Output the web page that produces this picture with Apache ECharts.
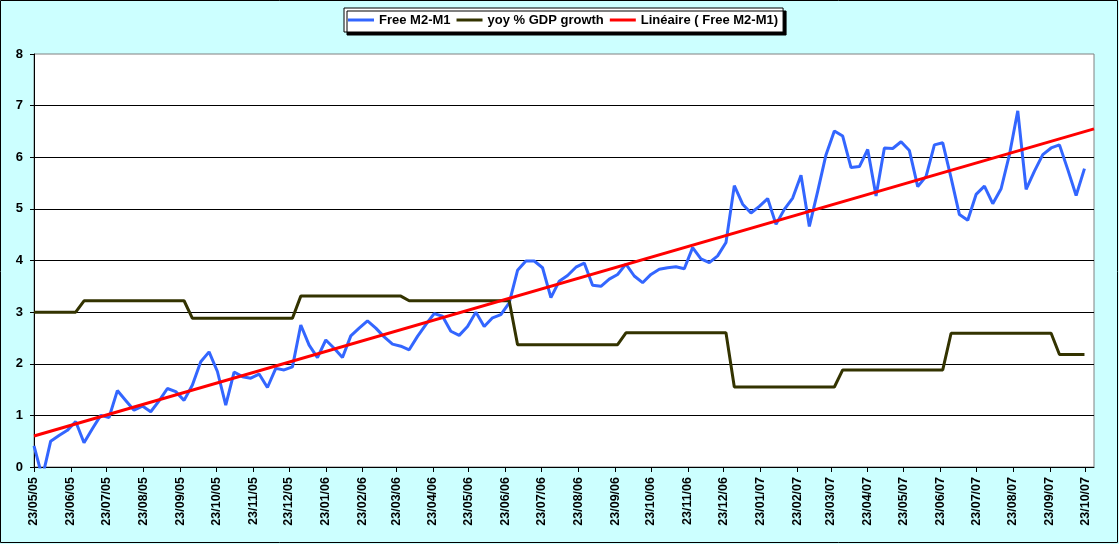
<!DOCTYPE html>
<html><head><meta charset="utf-8">
<script src="https://cdn.jsdelivr.net/npm/echarts@6/dist/echarts.min.js"></script>
<style>html,body{margin:0;padding:0;background:#CCFFFF}#c{width:1119px;height:544px}</style>
</head><body><div id="c"></div>
<script>
// Weekly observations starting Monday 23/05/05 (127 weeks)
const startDate = [2005, 4, 23];
const axisDayCount = 891; // daily axis 23/05/05 .. 30/10/07
const seriesNames = ['Free M2-M1', 'yoy % GDP growth', 'Linéaire ( Free M2-M1)'];
const freeM2M1 = [
  0.41, -0.2, 0.5, 0.61, 0.71, 0.88, 0.47, 0.74, 1.0, 0.96,
  1.48, 1.29, 1.10, 1.18, 1.07, 1.28, 1.52, 1.46, 1.29, 1.59,
  2.04, 2.23, 1.85, 1.20, 1.84, 1.75, 1.72, 1.80, 1.54, 1.91,
  1.88, 1.94, 2.75, 2.36, 2.12, 2.46, 2.30, 2.12, 2.54, 2.69,
  2.83, 2.69, 2.52, 2.38, 2.34, 2.27, 2.53, 2.76, 2.97, 2.92,
  2.63, 2.55, 2.72, 3.00, 2.72, 2.89, 2.95, 3.18, 3.81, 3.99,
  3.99, 3.86, 3.28, 3.60, 3.71, 3.87, 3.95, 3.52, 3.50, 3.64,
  3.73, 3.93, 3.70, 3.57, 3.73, 3.83, 3.86, 3.88, 3.84, 4.25,
  4.03, 3.96, 4.09, 4.35, 5.45, 5.09, 4.92, 5.05, 5.20, 4.70,
  4.99, 5.21, 5.65, 4.66, 5.34, 6.05, 6.51, 6.41, 5.80, 5.82,
  6.15, 5.25, 6.18, 6.17, 6.30, 6.13, 5.43, 5.63, 6.24, 6.28,
  5.60, 4.89, 4.78, 5.28, 5.44, 5.10, 5.39, 6.05, 6.90, 5.38,
  5.73, 6.05, 6.18, 6.24, 5.76, 5.26, 5.78
];
const gdpGrowth = [
  3.0, 3.0, 3.0, 3.0, 3.0, 3.0,
  3.22, 3.22, 3.22, 3.22, 3.22, 3.22, 3.22, 3.22, 3.22, 3.22, 3.22, 3.22, 3.22,
  2.88, 2.88, 2.88, 2.88, 2.88, 2.88, 2.88, 2.88, 2.88, 2.88, 2.88, 2.88, 2.88,
  3.31, 3.31, 3.31, 3.31, 3.31, 3.31, 3.31, 3.31, 3.31, 3.31, 3.31, 3.31, 3.31,
  3.22, 3.22, 3.22, 3.22, 3.22, 3.22, 3.22, 3.22, 3.22, 3.22, 3.22, 3.22, 3.22,
  2.37, 2.37, 2.37, 2.37, 2.37, 2.37, 2.37, 2.37, 2.37, 2.37, 2.37, 2.37, 2.37,
  2.60, 2.60, 2.60, 2.60, 2.60, 2.60, 2.60, 2.60, 2.60, 2.60, 2.60, 2.60, 2.60,
  1.55, 1.55, 1.55, 1.55, 1.55, 1.55, 1.55, 1.55, 1.55, 1.55, 1.55, 1.55, 1.55,
  1.88, 1.88, 1.88, 1.88, 1.88, 1.88, 1.88, 1.88, 1.88, 1.88, 1.88, 1.88, 1.88,
  2.59, 2.59, 2.59, 2.59, 2.59, 2.59, 2.59, 2.59, 2.59, 2.59, 2.59, 2.59, 2.59,
  2.18, 2.18, 2.18, 2.18
];
// Trend line read at the left and right edges of the plot
const trendDays = [0, 890];
const trendValues = [0.6, 6.55];
const yMin = 0, yMax = 8, yStep = 1;

function pad(n){ return (n < 10 ? '0' : '') + n; }
const days = [];
for (let i = 0; i < axisDayCount; i++) {
  const d = new Date(Date.UTC(startDate[0], startDate[1], startDate[2] + i));
  days.push(pad(d.getUTCDate()) + '/' + pad(d.getUTCMonth() + 1) + '/' + pad(d.getUTCFullYear() % 100));
}
const isMonthTick = (idx, val) => days[idx].slice(0, 3) === '23/';

const font = 'Arial, "Liberation Sans", sans-serif';
const chart = echarts.init(document.getElementById('c'), null, {renderer: 'canvas'});
chart.setOption({
  backgroundColor: '#CCFFFF',
  animation: false,
  graphic: [{
    type: 'rect', silent: true, z: 100,
    shape: {x: 0.5, y: 0.5, width: 1117, height: 542},
    style: {fill: null, stroke: '#000', lineWidth: 1}
  }],
  legend: {
    top: 8, left: 344,
    data: seriesNames,
    icon: 'rect',
    backgroundColor: '#fff', borderColor: '#000', borderWidth: 1,
    shadowColor: '#000', shadowBlur: 0, shadowOffsetX: 3, shadowOffsetY: 3,
    padding: [5, 5, 5, 4],
    itemWidth: 26, itemHeight: 3, itemGap: 6,
    textStyle: {fontFamily: font, fontWeight: 'bold', fontSize: 13, color: '#000', lineHeight: 14}
  },
  grid: {
    left: 34, right: 25, top: 54, bottom: 77,
    show: true, backgroundColor: '#fff', borderColor: '#808080', borderWidth: 1
  },
  xAxis: {
    type: 'category', data: days, boundaryGap: false,
    axisLine: {lineStyle: {color: '#000', width: 1}},
    axisTick: {interval: isMonthTick, length: 5, lineStyle: {color: '#000'}},
    axisLabel: {
      interval: isMonthTick, rotate: 90, margin: 10,
      fontFamily: font, fontWeight: 'bold', fontSize: 12.5, color: '#000'
    },
    splitLine: {show: false}
  },
  yAxis: {
    type: 'value', min: yMin, max: yMax, interval: yStep,
    axisLine: {show: true, lineStyle: {color: '#000', width: 1}},
    axisTick: {show: true, length: 4, lineStyle: {color: '#000'}},
    axisLabel: {margin: 11, fontFamily: font, fontWeight: 'bold', fontSize: 13, color: '#000'},
    splitLine: {show: true, showMaxLine: false, lineStyle: {color: '#000', width: 1}}
  },
  series: [
    {
      name: seriesNames[0], type: 'line', symbol: 'none',
      data: freeM2M1.map((v, i) => [i * 7, v]),
      lineStyle: {color: '#3366FF', width: 3}, itemStyle: {color: '#3366FF'},
      clip: true, z: 2
    },
    {
      name: seriesNames[1], type: 'line', symbol: 'none',
      data: gdpGrowth.map((v, i) => [i * 7, v]),
      lineStyle: {color: '#333300', width: 3}, itemStyle: {color: '#333300'},
      clip: true, z: 3
    },
    {
      name: seriesNames[2], type: 'line', symbol: 'none',
      data: trendDays.map((d, i) => [d, trendValues[i]]),
      lineStyle: {color: '#FF0000', width: 3}, itemStyle: {color: '#FF0000'},
      clip: true, z: 4
    }
  ]
});
</script></body></html>
